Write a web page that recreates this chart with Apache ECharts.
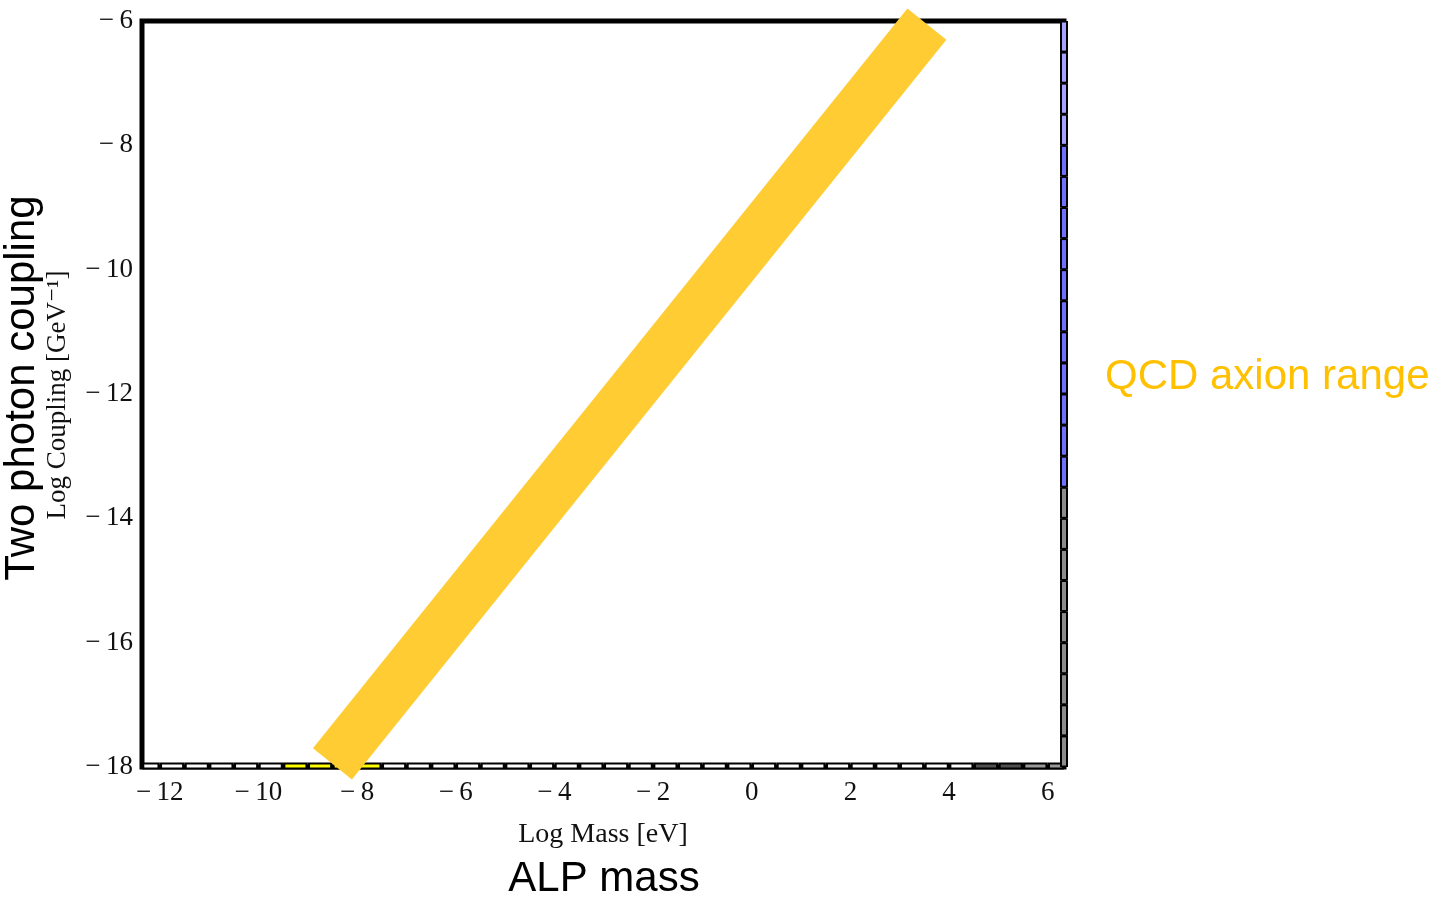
<!DOCTYPE html>
<html>
<head>
<meta charset="utf-8">
<style>
html,body{margin:0;padding:0;background:#fff;}
#chart{width:1440px;height:900px;}
</style>
<script src="https://cdn.jsdelivr.net/npm/echarts@6/dist/echarts.min.js"></script>
</head>
<body>
<div id="chart"></div>
<script>
// ---- data ----
const xRange = [-12.36, 6.33];
const yRange = [-18, -6];
const xTickValues = [-12, -10, -8, -6, -4, -2, 0, 2, 4, 6];
const yTickValues = [-18, -16, -14, -12, -10, -8, -6];
// QCD axion band: centre line, log mass [eV] vs log coupling [GeV^-1]
const bandMass = [-8.5, 3.55];
const bandCoupling = [-17.95, -6.05];
// bottom edge strip segments (log mass from, to, colour)
const bottomFrom = [-12.36, -9.5, -7.5, 4.5, 5.5];
const bottomTo = [-9.5, -7.5, 4.5, 5.5, 6.33];
const bottomColor = ['#ffffff', '#ffff00', '#ffffff', '#505050', '#9a9a9a'];
// right edge strip segments (log coupling from, to, colour)
const rightFrom = [-6, -8, -13.5];
const rightTo = [-8, -13.5, -18];
const rightColor = ['#a4a4ff', '#7070ff', '#8c8c8c'];
const cellSize = 0.5;

// split segments into half-unit cells (visual separators)
function cells(from, to, color) {
  const out = [];
  for (let i = 0; i < from.length; i++) {
    const lo = Math.min(from[i], to[i]), hi = Math.max(from[i], to[i]);
    let a = lo;
    while (a < hi - 1e-9) {
      let b = Math.min(hi, Math.floor(a / cellSize + 1 + 1e-9) * cellSize);
      if (b <= a) b = Math.min(hi, a + cellSize);
      out.push([a, b, color[i]]);
      a = b;
    }
  }
  return out;
}
const bottomCells = cells(bottomFrom, bottomTo, bottomColor);
const rightCells = cells(rightFrom, rightTo, rightColor);

const minus = v => String(v).replace('-', '\u2212\u2009');
const chart = echarts.init(document.getElementById('chart'));
const serif = '"Liberation Serif", "DejaVu Serif", serif';
const sans = '"Liberation Sans", Arial, sans-serif';

chart.setOption({
  animation: false,
  backgroundColor: '#ffffff',
  grid: {
    left: 142, top: 21, width: 922, height: 746,
    containLabel: false, outerBoundsMode: 'none',
    show: true, borderColor: '#000', borderWidth: 5, backgroundColor: 'transparent'
  },
  xAxis: {
    type: 'value', min: xRange[0], max: xRange[1],
    axisLine: {show: false}, axisTick: {show: false}, splitLine: {show: false},
    axisLabel: {
      customValues: xTickValues, margin: 12, color: '#111',
      fontFamily: serif, fontSize: 27, formatter: minus, showMinLabel: true, showMaxLabel: true
    }
  },
  yAxis: {
    type: 'value', min: yRange[0], max: yRange[1], interval: 2,
    axisLine: {show: false}, axisTick: {show: false}, splitLine: {show: false},
    axisLabel: {
      margin: 9, color: '#111', fontFamily: serif, fontSize: 27, formatter: minus
    }
  },
  series: [
    {
      type: 'custom', name: 'bottom', clip: false, z: 3, silent: true,
      data: bottomCells,
      renderItem: function (params, api) {
        const p0 = api.coord([api.value(0), yRange[0]]);
        const p1 = api.coord([api.value(1), yRange[0]]);
        const col = bottomCells[params.dataIndex][2];
        return {type: 'group', children: [
          {type: 'rect', shape: {x: p0[0], y: p0[1] - 4.5, width: p1[0] - p0[0], height: 7}, style: {fill: '#000'}},
          {type: 'rect', shape: {x: p0[0] + 2.3, y: p0[1] - 2.5, width: Math.max(0, p1[0] - p0[0] - 4.6), height: 3}, style: {fill: col}}
        ]};
      }
    },
    {
      type: 'custom', name: 'right', clip: false, z: 3, silent: true,
      data: rightCells.map(c => [xRange[1], c[0], c[1]]),
      renderItem: function (params, api) {
        const hi = api.coord([xRange[1], Math.max(api.value(1), api.value(2))]);
        const lo = api.coord([xRange[1], Math.min(api.value(1), api.value(2))]);
        const col = rightCells[params.dataIndex][2];
        return {type: 'group', children: [
          {type: 'rect', shape: {x: hi[0] - 4, y: hi[1], width: 8, height: lo[1] - hi[1]}, style: {fill: '#000'}},
          {type: 'rect', shape: {x: hi[0] - 2, y: hi[1] + 1.5, width: 4, height: Math.max(0, lo[1] - hi[1] - 3)}, style: {fill: col}}
        ]};
      }
    },
    {
      type: 'line', name: 'QCD axion', clip: false, z: 10, silent: true,
      symbol: 'none',
      data: bandMass.map((m, i) => [m, bandCoupling[i]]),
      lineStyle: {width: 50, color: '#ffcc33', cap: 'butt'}
    }
  ],
  graphic: [
    {type: 'text', x: 22, y: 388, rotation: Math.PI / 2, z: 20,
     style: {text: 'Two photon coupling', font: '42px ' + sans, fill: '#000', align: 'center', verticalAlign: 'middle'}},
    {type: 'text', x: 58, y: 395, rotation: Math.PI / 2, z: 20,
     style: {text: 'Log Coupling [GeV\u207B\u00B9]', font: '27px ' + serif, fill: '#111', align: 'center', verticalAlign: 'middle'}},
    {type: 'text', x: 603, y: 835, z: 20,
     style: {text: 'Log Mass [eV]', font: '28px ' + serif, fill: '#111', align: 'center', verticalAlign: 'middle'}},
    {type: 'text', x: 604, y: 879, z: 20,
     style: {text: 'ALP mass', font: '42px ' + sans, fill: '#000', align: 'center', verticalAlign: 'middle'}},
    {type: 'text', x: 1105, y: 377, z: 20,
     style: {text: 'QCD axion range', font: '42px ' + sans, fill: '#ffc000', align: 'left', verticalAlign: 'middle'}}
  ]
});
</script>
</body>
</html>
